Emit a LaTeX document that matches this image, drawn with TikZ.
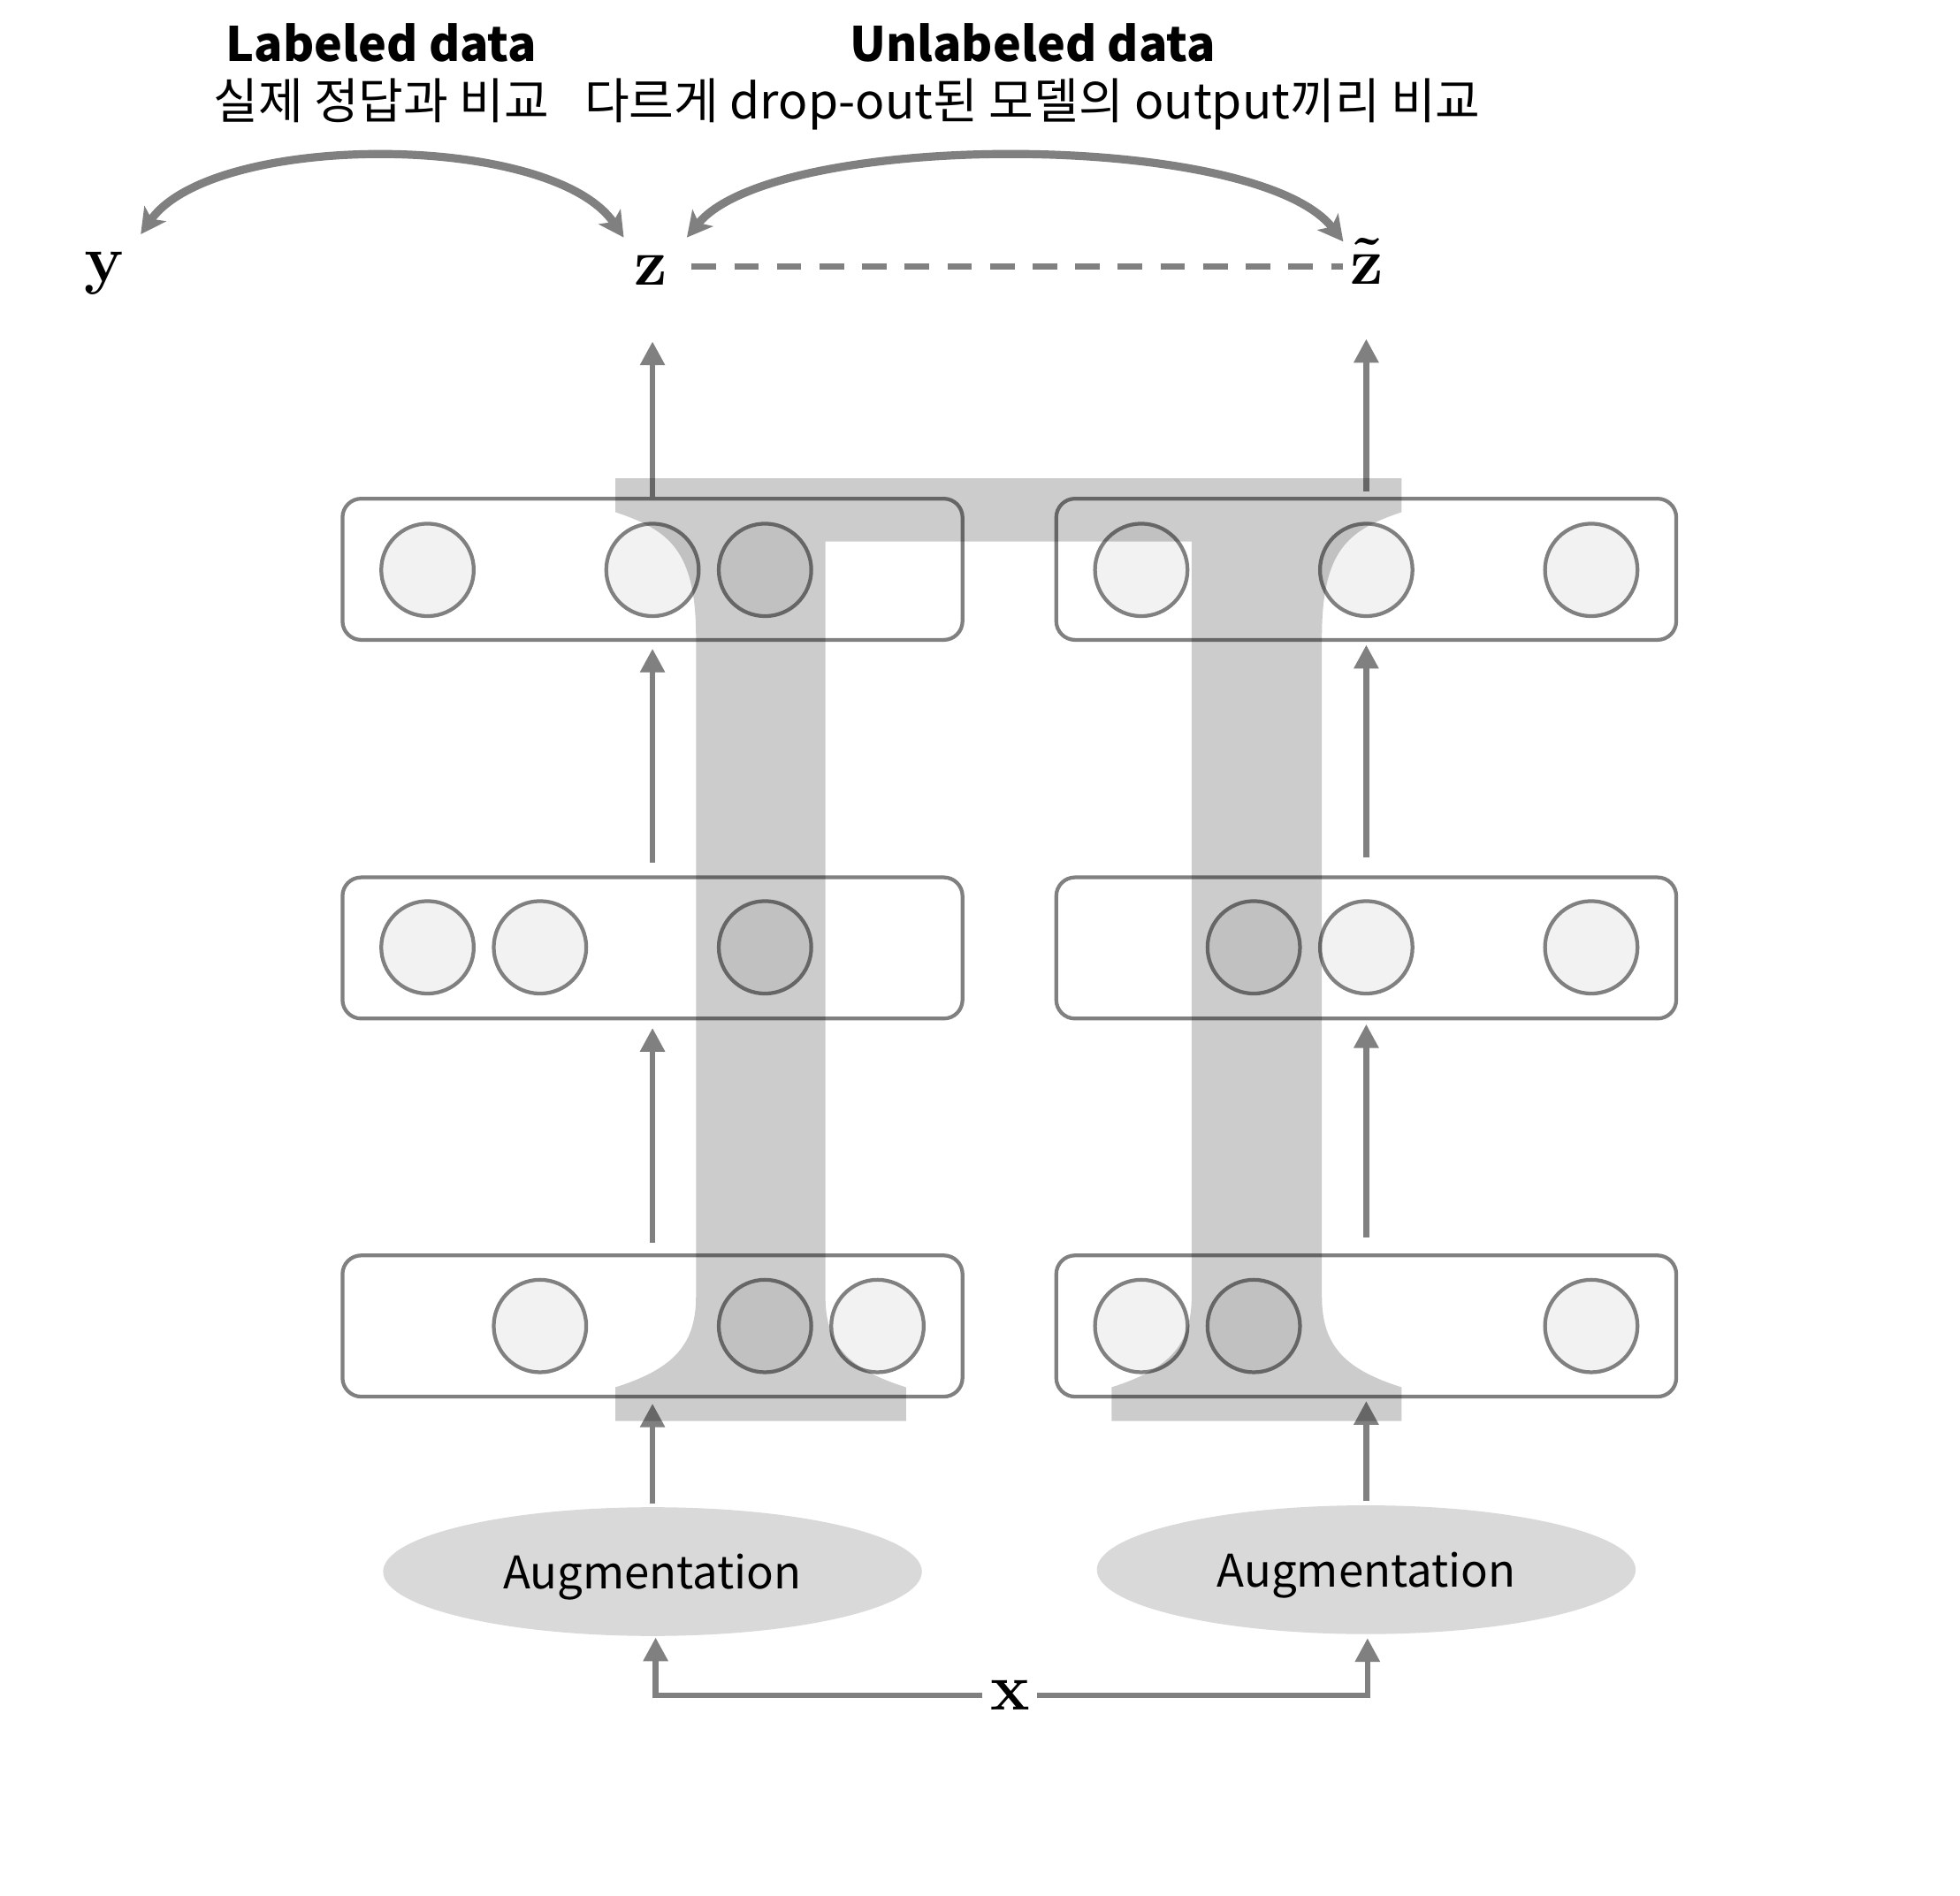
\documentclass[tikz,border=0pt]{standalone}
\usepackage{fix-cm}
\usepackage[no-math]{fontspec}
\newfontfamily\kr{Noto Sans CJK KR}
\usetikzlibrary{arrows.meta,shapes.geometric}
\definecolor{lg}{HTML}{808080}
\definecolor{cfill}{HTML}{F2F2F2}
\definecolor{efill}{HTML}{D9D9D9}
\begin{document}
\begin{tikzpicture}[x=1pt,y=-1pt,
  layerbox/.style={draw=lg, line width=3pt, rounded corners=15pt, minimum width=496pt, minimum height=113pt, inner sep=0pt},
  unit/.style={circle, draw=lg, fill=cfill, line width=3pt, minimum size=74pt, inner sep=0pt},
  aug/.style={ellipse, fill=efill, minimum width=431pt, minimum height=103pt, inner sep=0pt, text height=28pt, text depth=0pt, font=\kr\fontsize{36}{44}\selectfont},
  flow/.style={draw=lg, line width=4.5pt, -{Triangle[length=19pt,width=19pt]}},
  cmp/.style={draw=lg, line width=6.5pt, {Stealth[length=20pt,width=21pt,inset=5pt]}-{Stealth[length=20pt,width=21pt,inset=5pt]}},
  var/.style={font=\fontsize{53}{60}\selectfont, inner sep=0pt},
  head/.style={font=\kr\bfseries\fontsize{38}{46}\selectfont, anchor=base, inner sep=0pt},
  sub/.style={font=\kr\fontsize{39}{46}\selectfont, anchor=base, inner sep=0pt},
  pishape/.style={fill=black, fill opacity=0.2},
  link/.style={draw=lg, line width=4.7pt, dash pattern=on 19.6pt off 14.5pt}
]
\fill[white] (0,0) rectangle (1568,1517);
\useasboundingbox (0,0) rectangle (1568,1517);

% headings
\node[head] (hl) at (305,49.5) {Labeled data};
\node[sub]  (sl) at (305,95) {실제 정답과 비교};
\node[head] (hu) at (826,49.5) {Unlabeled data};
\node[sub]  (su) at (826,95) {다르게 drop-out된 모델의 output끼리 비교};

% variables
\node[var, anchor=base] (y)  at (83.6,225)     {$\mathbf{y}$};
\node[var, anchor=base] (z)  at (521,228)      {$\mathbf{z}$};
\node[var, anchor=base] (zt) at (1093.6,227.5) {$\mathbf{\tilde{z}}$};
\node[var, inner xsep=6pt] (x) at (808,1356.5) {$\mathbf{x}$};

% layer boxes
\node[layerbox] (tL) at (522,455.5) {};
\node[layerbox] (mL) at (522,758.5) {};
\node[layerbox] (bL) at (522,1061) {};
\node[layerbox] (tR) at (1093,455.5) {};
\node[layerbox] (mR) at (1093,758.5) {};
\node[layerbox] (bR) at (1093,1061) {};

% units
\foreach \cx/\n in {342/a,522/b,612/c} \node[unit] (tL\n) at (\cx,456) {};
\foreach \cx/\n in {342/a,432/b,612/c} \node[unit] (mL\n) at (\cx,758) {};
\foreach \cx/\n in {432/a,612/b,702/c} \node[unit] (bL\n) at (\cx,1061) {};
\foreach \cx/\n in {913/a,1093/b,1273/c} \node[unit] (tR\n) at (\cx,456) {};
\foreach \cx/\n in {1003/a,1093/b,1273/c} \node[unit] (mR\n) at (\cx,758) {};
\foreach \cx/\n in {913/a,1003/b,1273/c} \node[unit] (bR\n) at (\cx,1061) {};

% augmentation
\node[aug] (augL) at (522,1257.5) {Augmentation};
\node[aug] (augR) at (1093,1256) {Augmentation};

% flows left
\draw[flow] ([yshift=2.5pt]augL.north) -- ([yshift=-4pt]bL.south);
\draw[flow] ([yshift=8.5pt]bL.north) -- ([yshift=-6pt]mL.south);
\draw[flow] ([yshift=10pt]mL.north) -- ([yshift=-5.5pt]tL.south);
\draw[flow, shorten >=45pt] (tL.north) -- (tL.north |- z.south);
% flows right
\draw[flow] ([yshift=3.5pt]augR.north) -- ([yshift=-2pt]bR.south);
\draw[flow] ([yshift=12.5pt]bR.north) -- ([yshift=-3pt]mR.south);
\draw[flow] ([yshift=14.5pt]mR.north) -- ([yshift=-2.5pt]tR.south);
\draw[flow, shorten >=43.5pt] ([yshift=4pt]tR.north) -- (tR.north |- zt.south);
% input
\draw[flow, shorten >=1pt] (x.west) -| ([xshift=2.5pt]augL.south);
\draw[flow, shorten >=3pt] (x.east) -| ([xshift=1pt]augR.south);

% comparisons
\draw[cmp] ([shift={(29pt,37.6pt)}]y.base) .. controls +(58,-82) and +(-58,-85) .. ([shift={(-22pt,38pt)}]z.base);
\draw[cmp] ([shift={(28.5pt,38pt)}]z.base) .. controls +(70,-86) and +(-70,-89.3) .. ([shift={(-19pt,34.2pt)}]zt.base);
\draw[link] ([shift={(32.3pt,14.6pt)}]z.base) -- ([shift={(-19pt,14.1pt)}]zt.base);

% Pi overlay
\fill[pishape] (492.3,382.7) -- (1121.3,382.7) -- (1121.3,409.8)
  .. controls (1078.6,424) and (1057.5,440) .. (1057.5,510) -- (1057.5,1037)
  .. controls (1057.5,1075) and (1073.6,1095) .. (1121.3,1110) -- (1121.3,1137) -- (889.2,1137) -- (889.2,1110)
  .. controls (936.9,1095) and (953.3,1075) .. (953.3,1037) -- (953.3,433.3) -- (660.3,433.3) -- (660.3,1037)
  .. controls (660.3,1075) and (677,1095) .. (724.8,1110) -- (724.8,1137) -- (492.3,1137) -- (492.3,1110)
  .. controls (540,1095) and (556.8,1075) .. (556.8,1037) -- (556.8,510)
  .. controls (556.8,440) and (535,424) .. (492.3,409.8) -- cycle;
\end{tikzpicture}
\end{document}
